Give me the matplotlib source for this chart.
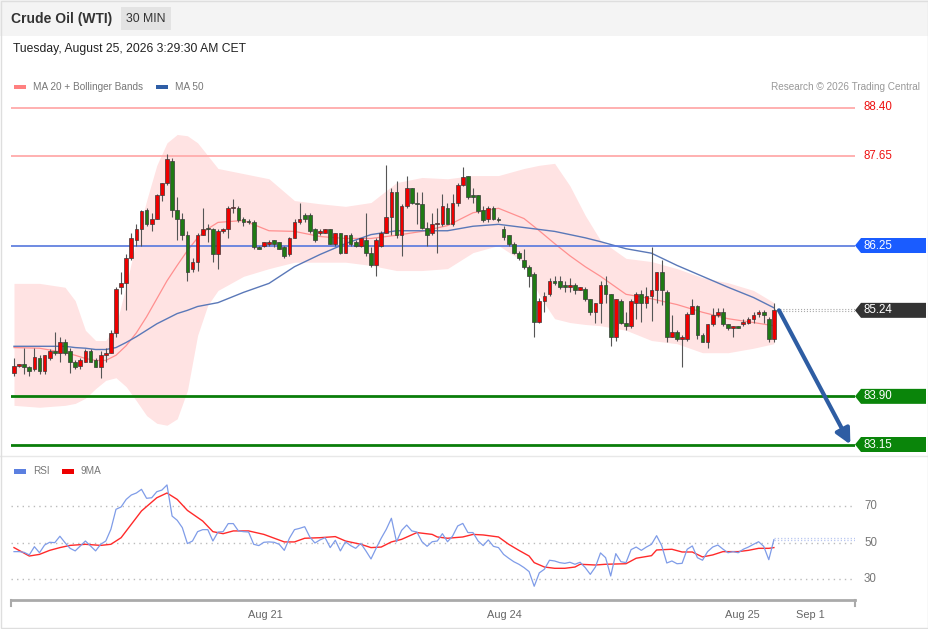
import matplotlib
matplotlib.use('Agg')
import matplotlib.pyplot as plt
from matplotlib.transforms import blended_transform_factory
from matplotlib.patches import Polygon, Rectangle
import numpy as np

plt.rcParams['font.family'] = ['Liberation Sans', 'DejaVu Sans']

W, H = 929, 629

# ---------------- data (30-min candles) ----------------
opens = [84.27, 84.38, 84.40, 84.36, 84.32, 84.50, 84.29, 84.50, 84.60, 84.58,
         84.75, 84.60, 84.43, 84.38, 84.44, 84.60, 84.47, 84.35, 84.55, 84.58,
         84.89, 85.60, 85.67, 86.06, 86.34, 86.51, 86.81, 86.59, 86.67, 87.04,
         87.22, 87.57, 86.81, 86.67, 86.42, 85.88, 86.00, 86.42, 86.51, 86.50,
         86.11, 86.47, 86.50, 86.83, 86.84, 86.66, 86.62, 86.62, 86.23, 86.25,
         86.27, 86.33, 86.30, 86.22, 86.11, 86.37, 86.61, 86.72, 86.72, 86.50,
         86.44, 86.45, 86.50, 86.28, 86.44, 86.14, 86.42, 86.30, 86.25, 86.34,
         86.13, 85.94, 86.25, 86.45, 86.69, 87.09, 86.41, 86.87, 87.14, 86.92,
         86.90, 86.53, 86.44, 86.58, 86.59, 86.84, 86.59, 86.92, 87.20, 87.33,
         87.04, 87.03, 86.80, 86.66, 86.83, 86.67, 86.50, 86.41, 86.28, 86.14,
         86.03, 85.92, 85.81, 85.06, 85.39, 85.49, 85.70, 85.69, 85.63, 85.61,
         85.63, 85.56, 85.58, 85.41, 85.21, 85.35, 85.63, 85.49, 84.83, 85.38,
         85.05, 84.99, 85.36, 85.49, 85.36, 85.47, 85.55, 85.83, 85.53, 84.82,
         84.91, 84.79, 84.79, 85.19, 85.30, 84.86, 84.75, 85.02, 85.16, 85.21,
         85.02, 84.96, 84.99, 85.03, 85.05, 85.10, 85.18, 85.21, 85.10, 84.79]
highs = [84.50, 84.41, 84.66, 84.38, 84.66, 84.55, 84.55, 84.63, 84.91, 84.83,
         84.79, 84.66, 84.46, 84.50, 84.63, 84.63, 84.49, 84.61, 84.66, 84.93,
         85.60, 85.83, 86.11, 86.44, 86.59, 86.80, 86.83, 86.75, 87.06, 87.23,
         87.68, 87.62, 87.00, 86.76, 86.48, 86.05, 86.44, 86.84, 86.59, 86.53,
         86.50, 86.53, 86.86, 86.97, 86.86, 86.69, 86.66, 86.64, 86.25, 86.31,
         86.33, 86.34, 86.31, 86.25, 86.39, 86.66, 86.92, 86.76, 86.75, 86.53,
         86.51, 86.51, 86.51, 86.45, 86.45, 86.42, 86.44, 86.33, 86.37, 86.76,
         86.22, 86.36, 86.47, 87.50, 87.14, 87.26, 86.90, 87.33, 87.15, 87.08,
         87.08, 86.62, 86.76, 86.84, 87.06, 86.92, 87.06, 87.23, 87.47, 87.34,
         87.15, 87.04, 86.87, 86.87, 86.86, 86.69, 86.55, 86.42, 86.30, 86.16,
         86.20, 85.95, 85.83, 85.44, 85.52, 85.74, 85.78, 85.78, 85.70, 85.74,
         85.67, 85.61, 85.60, 85.42, 85.36, 85.69, 85.78, 85.50, 85.42, 85.41,
         85.21, 85.41, 85.52, 85.55, 85.60, 86.23, 85.84, 86.03, 85.56, 85.16,
         84.93, 84.86, 85.22, 85.42, 85.32, 84.89, 85.03, 85.27, 85.28, 85.27,
         85.03, 85.00, 85.00, 85.11, 85.13, 85.21, 85.24, 85.24, 85.13, 85.35]
lows = [84.22, 84.35, 84.25, 84.22, 84.29, 84.25, 84.25, 84.47, 84.55, 84.44,
        84.55, 84.27, 84.33, 84.33, 84.43, 84.43, 84.35, 84.19, 84.43, 84.57,
        84.83, 85.50, 85.24, 86.03, 86.25, 86.25, 86.56, 86.48, 86.66, 86.95,
        87.20, 86.69, 86.33, 86.33, 85.70, 85.83, 85.86, 86.41, 86.30, 86.00,
        85.88, 86.45, 86.37, 86.75, 86.62, 86.56, 86.58, 86.20, 86.19, 86.22,
        86.25, 86.23, 86.19, 86.06, 86.09, 86.36, 86.58, 86.62, 86.45, 86.31,
        86.42, 86.44, 86.27, 86.25, 86.11, 86.13, 86.25, 86.22, 86.22, 86.09,
        85.92, 85.78, 86.23, 86.44, 86.41, 86.37, 86.09, 86.84, 86.90, 86.59,
        86.51, 86.25, 86.41, 86.13, 86.56, 86.58, 86.56, 86.87, 87.17, 86.98,
        86.92, 86.76, 86.62, 86.61, 86.64, 86.62, 86.33, 86.25, 86.11, 86.03,
        85.89, 85.61, 84.83, 85.05, 85.22, 85.47, 85.64, 85.58, 85.52, 85.52,
        85.50, 85.55, 85.39, 85.16, 85.05, 85.05, 85.35, 84.69, 84.77, 85.03,
        84.93, 84.97, 85.11, 85.06, 85.27, 85.08, 85.35, 85.32, 84.75, 84.82,
        84.77, 84.35, 84.77, 85.18, 84.79, 84.74, 84.66, 84.99, 85.14, 84.99,
        84.94, 84.83, 84.96, 85.00, 85.03, 85.05, 85.13, 85.05, 84.75, 84.74]
closes = [84.38, 84.40, 84.35, 84.30, 84.52, 84.29, 84.54, 84.60, 84.58, 84.75,
          84.58, 84.43, 84.36, 84.47, 84.61, 84.44, 84.36, 84.54, 84.58, 84.89,
          85.58, 85.66, 86.05, 86.36, 86.51, 86.78, 86.58, 86.66, 87.04, 87.22,
          87.59, 86.81, 86.67, 86.42, 85.84, 86.00, 86.41, 86.50, 86.50, 86.11,
          86.48, 86.51, 86.84, 86.84, 86.64, 86.61, 86.61, 86.23, 86.20, 86.30,
          86.30, 86.27, 86.20, 86.09, 86.37, 86.62, 86.67, 86.66, 86.48, 86.34,
          86.48, 86.50, 86.28, 86.44, 86.14, 86.41, 86.28, 86.25, 86.36, 86.14,
          85.94, 86.34, 86.45, 86.69, 87.09, 86.41, 86.87, 87.14, 86.92, 86.89,
          86.53, 86.41, 86.58, 86.59, 86.86, 86.59, 86.92, 87.20, 87.31, 87.00,
          87.01, 86.78, 86.64, 86.84, 86.66, 86.64, 86.39, 86.28, 86.13, 86.05,
          85.91, 85.78, 85.06, 85.38, 85.47, 85.69, 85.67, 85.60, 85.60, 85.63,
          85.55, 85.60, 85.42, 85.22, 85.35, 85.63, 85.50, 84.83, 85.41, 85.05,
          85.00, 85.38, 85.50, 85.36, 85.47, 85.55, 85.83, 85.55, 84.83, 84.91,
          84.79, 84.82, 85.19, 85.30, 84.85, 84.75, 85.02, 85.16, 85.22, 85.02,
          84.96, 84.99, 84.97, 85.06, 85.11, 85.16, 85.22, 85.16, 84.79, 85.24]

# indicator values read at sample candles
band_idx = [0, 5, 10, 12, 14, 16, 18, 20, 22, 24, 26, 28, 30, 32, 34, 36, 38, 40, 45, 50,
            55, 60, 65, 70, 75, 80, 85, 90, 95, 100, 103, 106, 109, 112, 115, 120, 125, 130,
            135, 140, 145, 149]
bb_upper = [85.66, 85.66, 85.60, 85.39, 84.93, 84.77, 84.77, 85.00, 85.63, 86.33, 86.95, 87.50,
            87.85, 87.98, 87.96, 87.85, 87.65, 87.45, 87.37, 87.29, 86.95, 86.90, 86.86, 86.92,
            87.23, 87.31, 87.29, 87.34, 87.34, 87.45, 87.50, 87.53, 87.18, 86.72, 86.33, 86.05,
            86.00, 85.89, 85.75, 85.67, 85.55, 85.36]
bb_lower = [83.76, 83.73, 83.76, 83.79, 83.87, 84.02, 84.15, 84.19, 84.05, 83.83, 83.60, 83.48,
            83.45, 83.55, 83.99, 84.85, 85.32, 85.55, 85.77, 85.89, 85.99, 85.99, 85.99, 85.94,
            85.86, 85.86, 85.89, 86.14, 86.25, 85.99, 85.47, 85.11, 85.05, 85.02, 85.00, 84.93,
            84.77, 84.72, 84.58, 84.58, 84.65, 84.72]
ma20 = [84.66, 84.65, 84.58, 84.54, 84.49, 84.46, 84.46, 84.54, 84.69, 84.89, 85.14, 85.42,
        85.70, 85.94, 86.17, 86.37, 86.51, 86.61, 86.64, 86.48, 86.47, 86.39, 86.36, 86.36,
        86.41, 86.47, 86.56, 86.76, 86.83, 86.67, 86.48, 86.28, 86.09, 85.92, 85.77, 85.49,
        85.42, 85.33, 85.21, 85.11, 85.05, 85.00]
ma50 = [84.68, 84.68, 84.68, 84.66, 84.65, 84.63, 84.63, 84.66, 84.74, 84.83, 84.93, 85.03,
        85.11, 85.19, 85.24, 85.30, 85.33, 85.36, 85.52, 85.66, 85.92, 86.11, 86.28, 86.42,
        86.48, 86.48, 86.48, 86.55, 86.58, 86.53, 86.50, 86.47, 86.42, 86.37, 86.31, 86.20,
        86.13, 85.94, 85.77, 85.60, 85.44, 85.28]

rsi = [45.1, 45.1, 44.7, 43.3, 47.8, 44.5, 48.7, 50.2, 50.0, 53.5,
       50.0, 46.9, 45.5, 48.2, 50.9, 48.2, 45.5, 49.1, 50.9, 57.3,
       68.2, 69.5, 73.6, 76.0, 77.1, 79.1, 74.2, 74.5, 77.8, 78.7,
       81.5, 64.5, 62.2, 58.2, 49.5, 50.9, 56.0, 57.1, 57.1, 50.9,
       55.8, 56.0, 60.4, 60.4, 56.4, 56.0, 55.8, 49.1, 48.4, 50.2,
       50.4, 50.2, 49.1, 45.8, 52.4, 57.1, 57.8, 58.7, 53.1, 49.8,
       51.5, 52.7, 47.3, 51.3, 45.5, 50.5, 48.4, 46.9, 49.6, 45.5,
       41.1, 46.9, 52.4, 57.3, 63.3, 50.5, 56.7, 59.6, 56.4, 55.8,
       50.5, 48.0, 50.5, 50.9, 54.9, 50.5, 53.6, 59.1, 60.5, 55.5,
       55.5, 50.9, 48.4, 51.5, 48.0, 47.3, 43.6, 41.5, 39.6, 38.2,
       36.4, 34.2, 26.2, 33.5, 35.5, 40.4, 40.0, 39.1, 38.7, 39.3,
       38.2, 39.3, 36.4, 32.7, 36.7, 44.4, 41.8, 31.8, 44.0, 39.6,
       39.1, 46.2, 47.6, 45.8, 47.6, 49.1, 53.8, 48.4, 38.9, 40.0,
       38.5, 38.7, 46.4, 48.2, 41.8, 40.4, 45.1, 47.6, 48.7, 46.5,
       44.5, 45.1, 44.5, 46.4, 47.6, 49.1, 50.5, 48.0, 40.7, 51.6]

ma9_idx = [0, 3, 5, 7, 9, 11, 14, 17, 19, 21, 23, 25, 28, 30, 32, 34, 37, 39, 41, 43, 46, 49,
           53, 55, 57, 60, 63, 65, 68, 70, 72, 74, 76, 79, 82, 83, 85, 88, 90, 92, 95, 97, 99,
           101, 102, 104, 106, 108, 110, 111, 114, 116, 120, 122, 125, 126, 129, 131, 133, 135,
           137, 139, 142, 144, 146, 148, 149]
rsi_ma9 = [47.3, 42.7, 43.6, 45.8, 47.3, 48.5, 49.1, 48.5, 49.1, 52.7, 60.0, 67.3, 74.5, 77.1,
           73.6, 67.6, 61.8, 56.0, 54.9, 56.4, 56.4, 54.5, 50.4, 50.4, 52.4, 52.7, 53.3, 50.9,
           49.1, 47.3, 47.6, 50.4, 51.8, 55.5, 54.5, 53.1, 52.4, 53.1, 54.5, 54.2, 53.1, 49.1,
           45.8, 42.7, 39.1, 36.7, 36.0, 36.0, 36.7, 38.2, 37.8, 38.2, 38.5, 41.5, 42.9, 46.0,
           46.4, 44.9, 44.9, 42.2, 43.3, 45.1, 45.1, 45.8, 46.9, 46.9, 47.3]

levels_res = [88.40, 87.65]
level_pivot = 86.25
last_price = 85.24
levels_sup = [83.90, 83.15]
target_price = 83.15
target_idx = 164.0

tick_pos = [49.2, 96.1, 142.9, 156.1]
tick_labels = ['Aug 21', 'Aug 24', 'Aug 25', 'Sep 1']
rsi_levels = [70, 50, 30]
rsi_proj = [51.6, 52.3]

# ---------------- layout ----------------
fig = plt.figure(figsize=(W / 100, H / 100), dpi=100)
fig.patch.set_facecolor('white')


def fx(px):
    return px / W


def fy(py):
    return 1 - py / H


# header band and frame
fig.patches.append(Rectangle((0, fy(36)), 1, 36 / H, transform=fig.transFigure,
                             facecolor='#f4f4f4', edgecolor='none', zorder=-5))
fig.patches.append(Rectangle((fx(121), fy(30)), 50 / W, 23 / H, transform=fig.transFigure,
                             facecolor='#e3e3e3', edgecolor='none', zorder=-4))
fig.patches.append(Rectangle((0.0008, 0.0012), 0.9984, 0.9976, transform=fig.transFigure,
                             facecolor='none', edgecolor='#dedede', lw=1, zorder=10))
fig.text(fx(11), fy(19), 'Crude Oil (WTI)', fontsize=10.0, fontweight='bold',
         color='#333333', va='center', ha='left')
fig.text(fx(146), fy(19), '30 MIN', fontsize=8.8, color='#333333', va='center', ha='center')
fig.text(fx(13), fy(49), 'Tuesday, August 25, 2026 3:29:30 AM CET', fontsize=8.7,
         color='#222222', va='center', ha='left')

# legends
fig.patches.append(Rectangle((fx(14), fy(89)), 12 / W, 4.5 / H, transform=fig.transFigure,
                             facecolor='#ff8080', edgecolor='none'))
fig.text(fx(33), fy(87), 'MA 20 + Bollinger Bands', fontsize=7.2, color='#777777',
         va='center', ha='left')
fig.patches.append(Rectangle((fx(156), fy(89)), 12 / W, 4.5 / H, transform=fig.transFigure,
                             facecolor='#2f5ea6', edgecolor='none'))
fig.text(fx(175), fy(87), 'MA 50', fontsize=7.2, color='#777777', va='center', ha='left')
fig.text(fx(920), fy(87), 'Research \u00a9 2026 Trading Central', fontsize=7.2,
         color='#999999', va='center', ha='right')

fig.patches.append(Rectangle((fx(14), fy(473.5)), 12 / W, 4.5 / H, transform=fig.transFigure,
                             facecolor='#5b7fe0', edgecolor='none'))
fig.text(fx(33), fy(471.5), 'RSI', fontsize=7.2, color='#777777', va='center', ha='left')
fig.patches.append(Rectangle((fx(62), fy(473.5)), 12 / W, 4.5 / H, transform=fig.transFigure,
                             facecolor='#ee0000', edgecolor='none'))
fig.text(fx(81), fy(471.5), '9MA', fontsize=7.2, color='#777777', va='center', ha='left')

# separator between panels
fig.lines.append(plt.Line2D([0, 1], [fy(456), fy(456)], transform=fig.transFigure,
                            color='#e8e8e8', lw=1))

# ---------------- price panel ----------------
ax_left, ax_right = 11, 855
x0_px, step_px = 14, 5.1
xlim = ((ax_left - x0_px) / step_px, (ax_right - x0_px) / step_px)

ax = fig.add_axes([fx(ax_left), fy(455.5), (ax_right - ax_left) / W, (455.5 - 95.5) / H])
ppu = (444 - 107) / (88.40 - 83.15)  # pixels per price unit
ax.set_ylim(83.15 - (455 - 444) / ppu, 88.40 + (107 - 95) / ppu)
ax.set_xlim(*xlim)
ax.axis('off')

idx = np.arange(len(closes))
o = np.array(opens); c = np.array(closes); hi = np.array(highs); lo = np.array(lows)

ax.fill_between(band_idx, bb_lower, bb_upper, color='#ffe3e3', lw=0, zorder=1)
ax.plot(band_idx, ma20, color='#ff9090', lw=0.9, zorder=2)
ax.plot(band_idx, ma50, color='#5a78b8', lw=1.0, zorder=2)

for lv in levels_res:
    ax.axhline(lv, color='#ffb0b0', lw=1.4, zorder=3)
ax.axhline(level_pivot, color='#5577dd', lw=1.2, zorder=3)
for lv in levels_sup:
    ax.axhline(lv, color='#0a7d0a', lw=2.0, zorder=3)

# dotted projection of last price
ax.plot([idx[-1], xlim[1]], [last_price + 0.015, last_price + 0.015], color='#aaaaaa',
        lw=0.8, ls=':', zorder=3)
ax.plot([idx[-1], xlim[1]], [last_price - 0.015, last_price - 0.015], color='#aaaaaa',
        lw=0.8, ls=':', zorder=3)

# candles
up = c >= o
body_col = np.where(up, '#f00000', '#1f7a14')
ax.vlines(idx, lo, hi, color='#555555', lw=0.8, zorder=4)
body_bot = np.minimum(o, c)
body_h = np.maximum(np.abs(c - o), 0.02)
ax.bar(idx, body_h, bottom=body_bot, width=0.72, color=body_col, edgecolor='#3a3a3a',
       linewidth=0.5, zorder=5)

# arrow to target
ax.annotate('', xy=(target_idx, target_price), xytext=(idx[-1] + 1.0, last_price),
            arrowprops=dict(arrowstyle='-|>,head_length=0.9,head_width=0.45',
                            color='#2e5da3', lw=3.0, shrinkA=0, shrinkB=0), zorder=6)

# right-side tags and labels
trans = blended_transform_factory(fig.transFigure, ax.transData)
hh = 7.5 / ppu


def tag(price, color):
    pts = [(fx(855), price), (fx(861), price + hh), (fx(926), price + hh),
           (fx(926), price - hh), (fx(861), price - hh)]
    p = Polygon(pts, closed=True, transform=trans, facecolor=color, edgecolor='none',
                clip_on=False, zorder=7)
    fig.patches.append(p)


for lv in levels_res:
    fig.text(fx(864), lv, f'{lv:.2f}', transform=trans, fontsize=8.3, color='#ee1111',
             va='center', ha='left')
tag(level_pivot, '#1a5cff')
fig.text(fx(864), level_pivot, f'{level_pivot:.2f}', transform=trans, fontsize=8.3,
         color='white', va='center', ha='left', zorder=8)
tag(last_price, '#333333')
fig.text(fx(864), last_price, f'{last_price:.2f}', transform=trans, fontsize=8.3,
         color='white', va='center', ha='left', zorder=8)
for lv in levels_sup:
    tag(lv, '#0a850a')
    fig.text(fx(864), lv, f'{lv:.2f}', transform=trans, fontsize=8.3, color='white',
             va='center', ha='left', zorder=8)

# ---------------- RSI panel ----------------
rax = fig.add_axes([fx(ax_left), fy(600), (ax_right - ax_left) / W, (600 - 461) / H])
rpu = (578.3 - 505) / 40.0
rax.set_ylim(30 - (599 - 578.3) / rpu, 70 + (505 - 460) / rpu)
rax.set_xlim(*xlim)
for lv in rsi_levels:
    rax.axhline(lv, color='#bbbbbb', lw=1.0, ls=(0, (1, 3)), zorder=1)
rax.plot(idx, rsi, color='#7f9ce8', lw=0.9, zorder=3)
rax.plot(ma9_idx, rsi_ma9, color='#ff2a2a', lw=1.0, zorder=2)
for v in rsi_proj:
    rax.plot([idx[-1], xlim[1]], [v, v], color='#b8c6f0', lw=0.9, ls=':', zorder=2)

for s in ['top', 'left', 'right']:
    rax.spines[s].set_visible(False)
rax.spines['bottom'].set_color('#aaaaaa')
rax.spines['bottom'].set_linewidth(2)
rax.set_yticks([])
rax.set_xticks(tick_pos)
rax.set_xticklabels(tick_labels, fontsize=7.9, color='#666666')
rax.tick_params(axis='x', length=0, pad=7)
rax.plot([0, 0], [0, -0.04], transform=rax.transAxes, color='#aaaaaa', lw=1.5, clip_on=False)
rax.plot([1, 1], [0, -0.04], transform=rax.transAxes, color='#aaaaaa', lw=1.5, clip_on=False)

rtrans = blended_transform_factory(fig.transFigure, rax.transData)
for lv in rsi_levels:
    fig.text(fx(864), lv, str(lv), transform=rtrans, fontsize=8.3, color='#777777',
             va='center', ha='left')

fig.savefig('out.png', dpi=100, facecolor='white')
